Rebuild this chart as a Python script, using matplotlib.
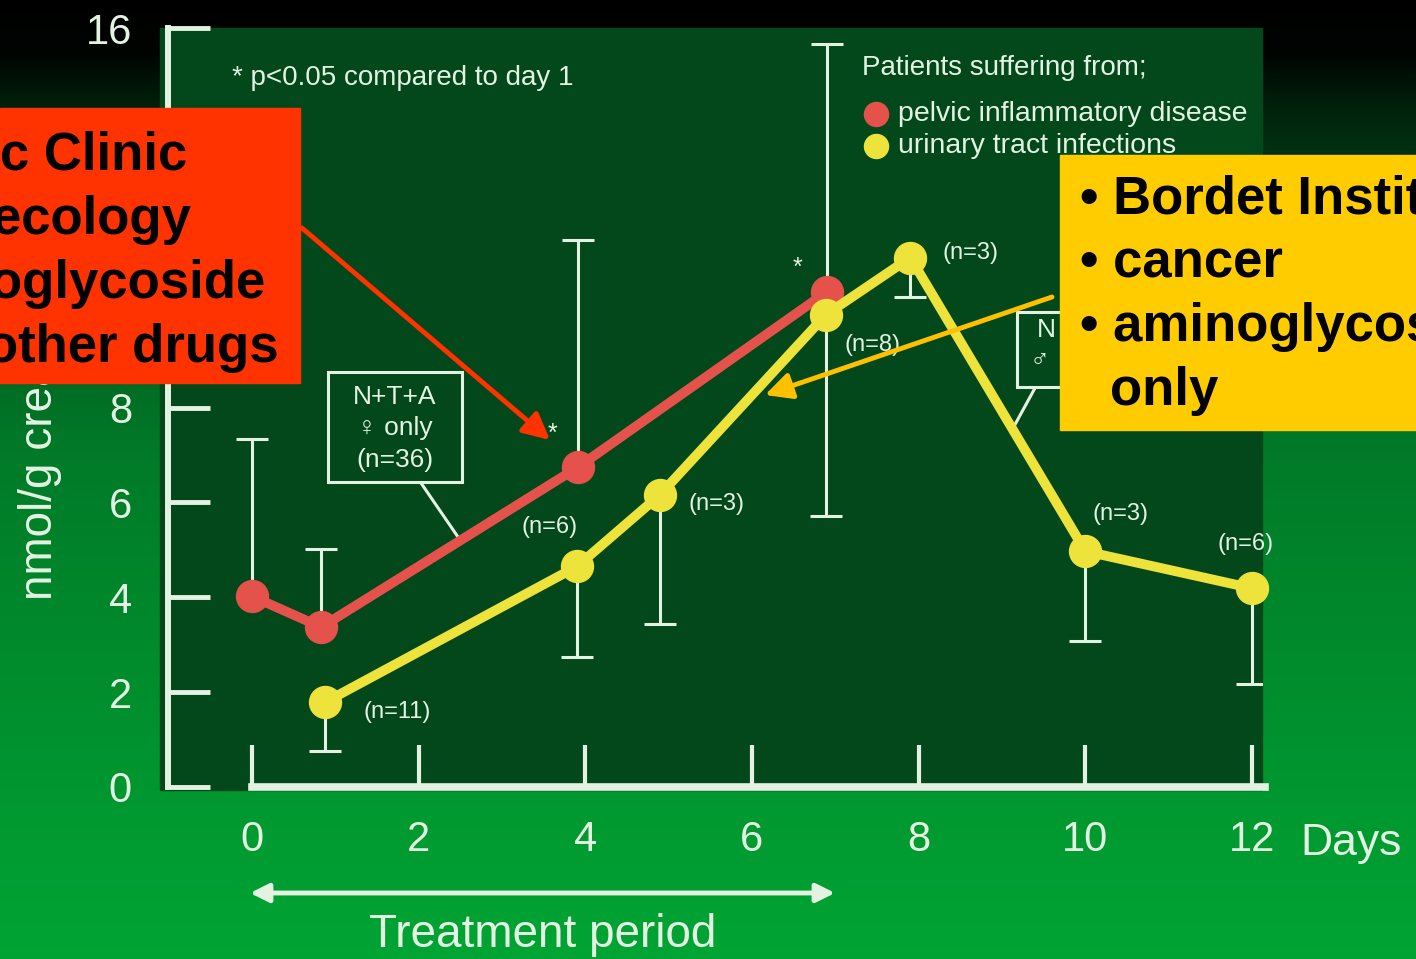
import numpy as np
import matplotlib.pyplot as plt
from matplotlib.patches import Rectangle

plt.rcParams['font.family'] = ['Liberation Sans', 'DejaVu Sans']

# urinary excretion (nmol/g creatinine) by treatment day
pid_days = [0, 0.83, 3.91, 6.9]
pid_mean = [4.02, 3.37, 6.74, 10.44]
pid_err_hi = [3.31, 1.64, 4.80, 5.22]
pid_n = [None, None, 6, None]
pid_star = [False, False, True, True]

uti_days = [0.88, 3.9, 4.89, 6.89, 7.9, 10.0, 12.0]
uti_mean = [1.79, 4.65, 6.15, 9.96, 11.16, 4.97, 4.19]
uti_err_lo = [1.03, 1.91, 2.72, 4.25, 0.84, 1.90, 2.02]
uti_n = [11, None, 3, 8, 3, 3, 6]

y_ticks = [0, 2, 4, 6, 8, 10, 12, 14, 16]
y_ticklabels = ['0', '2', '4', '6', '8', '', '', '', '16']
x_ticks = [0, 2, 4, 6, 8, 10, 12]

red_lines = ['c Clinic', 'ecology', 'oglycoside', 'other drugs']
yellow_lines = ['\u2022 Bordet Institute', '\u2022 cancer', '\u2022 aminoglycoside', 'only']

# offsets (pixels) of the n= labels and stars from their points
pid_n_off = [None, None, (-28, -60), None]
pid_star_off = [None, None, (-25, 33), (-30, 24)]
uti_n_off = [(72, -10), None, (57, -9), (46, -30), (60, 5), (35, 37), (-6, 44)]

W, H = 1416, 959
fg = '#e4f2e2'
red = '#e4524b'
yellow = '#eee33a'

fig = plt.figure(figsize=(W / 100, H / 100), dpi=100)

# slide background
bg = fig.add_axes([0, 0, 1, 1])
ys = np.arange(H)
grad = np.zeros((H, 1, 3))
grad[:, 0, 1] = np.interp(ys, [0, 55, 110, 250, 450, 959], [0, 5, 35, 80, 122, 165]) / 255
grad[:, 0, 2] = np.interp(ys, [0, 55, 110, 250, 450, 959], [0, 2, 12, 28, 40, 52]) / 255
bg.imshow(grad, extent=(0, W, H, 0), aspect='auto', interpolation='bilinear')
bg.add_patch(Rectangle((160, 28), 1102, 762, color='#02481b', zorder=1))
bg.set_xlim(0, W)
bg.set_ylim(H, 0)
bg.axis('off')

# data axes
ppd = 1000 / 12
ax = fig.add_axes([168 / W, 1 - 787 / H, (1262 - 168) / W, (787 - 28) / H])
ax.set_xlim((168 - 252) / ppd, (1262 - 252) / ppd)
ax.set_ylim(0, 16)
ax.patch.set_alpha(0)
for s in ['top', 'right']:
    ax.spines[s].set_visible(False)
ax.spines['left'].set_color(fg)
ax.spines['left'].set_linewidth(4.3)
ax.spines['left'].set_bounds(0, 16)
ax.spines['bottom'].set_color(fg)
ax.spines['bottom'].set_linewidth(5.5)
ax.spines['bottom'].set_bounds(0, 12.15)
ax.set_yticks(y_ticks)
ax.set_yticklabels(y_ticklabels)
ax.set_xticks(x_ticks)
ax.tick_params(axis='y', direction='in', length=30, width=3.5, colors=fg, labelsize=30, pad=26)
ax.tick_params(axis='x', direction='in', length=30, width=3, colors=fg, labelsize=30, pad=24)

ax.errorbar(pid_days, pid_mean, yerr=[np.zeros(len(pid_days)), pid_err_hi], fmt='none',
            ecolor=fg, elinewidth=2.2, capsize=11.5, capthick=2.2, zorder=2)
ax.errorbar(uti_days, uti_mean, yerr=[uti_err_lo, np.zeros(len(uti_days))], fmt='none',
            ecolor=fg, elinewidth=2.2, capsize=11.5, capthick=2.2, zorder=2)
ax.plot(pid_days, pid_mean, color=red, lw=7, marker='o', ms=23, zorder=4, clip_on=False)
ax.plot(uti_days, uti_mean, color=yellow, lw=7, marker='o', ms=23, zorder=5, clip_on=False)

for d, m, n, off in zip(pid_days, pid_mean, pid_n, pid_n_off):
    if n is not None:
        ax.annotate(f'(n={n})', xy=(d, m), xytext=off, textcoords='offset pixels',
                    ha='center', va='center', fontsize=17, color=fg)
for d, m, st, off in zip(pid_days, pid_mean, pid_star, pid_star_off):
    if st:
        ax.annotate('*', xy=(d, m), xytext=off, textcoords='offset pixels',
                    ha='center', va='center', fontsize=18, color=fg)
for d, m, n, off in zip(uti_days, uti_mean, uti_n, uti_n_off):
    if n is not None:
        ax.annotate(f'(n={n})', xy=(d, m), xytext=off, textcoords='offset pixels',
                    ha='center', va='center', fontsize=17, color=fg)

# axis titles, legend and notes (pixel coordinates)
bg.text(52, 600, 'nmol/g creatinine', rotation=90, rotation_mode='anchor',
        ha='left', va='baseline', fontsize=33, color=fg, zorder=3)
bg.text(1300, 843, 'Days', ha='left', va='center', fontsize=32, color=fg, zorder=3)
bg.text(543, 935, 'Treatment period', ha='center', va='center', fontsize=33, color=fg, zorder=3)
bg.annotate('', xy=(250, 893), xytext=(835, 893), zorder=3,
            arrowprops=dict(arrowstyle='<|-|>', color=fg, lw=3.5, mutation_scale=28,
                            shrinkA=0, shrinkB=0))

bg.text(232, 78, '* p<0.05 compared to day 1', ha='left', va='center', fontsize=20, color=fg, zorder=3)
bg.text(862, 68, 'Patients suffering from;', ha='left', va='center', fontsize=20, color=fg, zorder=3)
bg.scatter([876], [114], s=300, color=red, zorder=3)
bg.scatter([876], [146], s=300, color=yellow, zorder=3)
bg.text(898, 114, 'pelvic inflammatory disease', ha='left', va='center', fontsize=20.5, color=fg, zorder=3)
bg.text(898, 146, 'urinary tract infections', ha='left', va='center', fontsize=20.5, color=fg, zorder=3)

bg.add_patch(Rectangle((328, 372), 134, 110, fill=False, ec=fg, lw=2.2, zorder=3))
bg.text(395, 397, 'N+T+A', ha='center', va='center', fontsize=19, color=fg, zorder=3)
bg.text(395, 428, '\u2640 only', ha='center', va='center', fontsize=19, color=fg, zorder=3)
bg.text(395, 460, '(n=36)', ha='center', va='center', fontsize=19, color=fg, zorder=3)
bg.plot([421, 458], [483, 537], color=fg, lw=2.2, zorder=3)

bg.add_patch(Rectangle((1017, 312), 100, 75, fill=False, ec=fg, lw=2.2, zorder=3))
bg.text(1046, 330, 'N', ha='center', va='center', fontsize=19, color=fg, zorder=3)
bg.text(1040, 360, '\u2642', ha='center', va='center', fontsize=19, color=fg, zorder=3)
bg.plot([1035, 1012], [388, 430], color=fg, lw=2.2, zorder=3)

# call-out boxes on top
ov = fig.add_axes([0, 0, 1, 1], zorder=10)
ov.set_xlim(0, W)
ov.set_ylim(H, 0)
ov.axis('off')
ov.patch.set_alpha(0)

ov.add_patch(Rectangle((0, 108), 300, 275, color='#ff3300'))
for i, (txt, dx) in enumerate(zip(red_lines, [0, -8, -10, -14])):
    ov.text(dx, 170 + 64 * i, txt, ha='left', va='baseline', fontsize=38,
            fontweight='bold', color='black', clip_on=True)
ov.annotate('', xy=(550, 440), xytext=(302, 228),
            arrowprops=dict(arrowstyle='-|>', color='#ff3300', lw=3.5, mutation_scale=40,
                            shrinkA=0, shrinkB=0))

ov.add_patch(Rectangle((1060, 155), 356, 275, color='#ffcc00'))
for i, (txt, x0) in enumerate(zip(yellow_lines, [1080, 1080, 1080, 1110])):
    ov.text(x0, 213 + 64 * i, txt, ha='left', va='baseline', fontsize=38,
            fontweight='bold', color='black', clip_on=True)
ov.annotate('', xy=(765, 395), xytext=(1052, 297),
            arrowprops=dict(arrowstyle='-|>', color='#ffc000', lw=3.5, mutation_scale=40,
                            shrinkA=0, shrinkB=0))

fig.savefig('out.png', dpi=100)
